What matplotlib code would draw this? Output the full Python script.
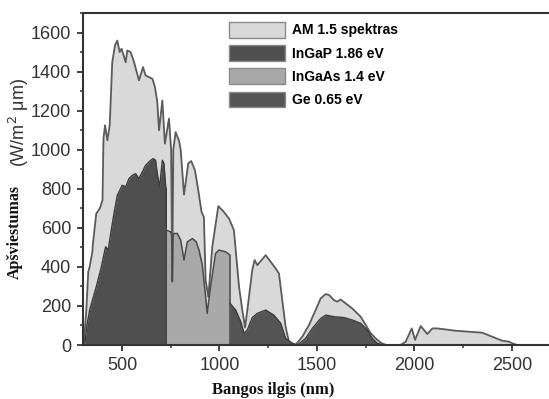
import matplotlib.pyplot as plt
from matplotlib.patches import Patch
from matplotlib.ticker import MultipleLocator

# AM 1.5 spectrum (nm, W/m2 um)
am_x = [300, 305, 317, 327, 334, 348, 351, 368, 386, 400, 405, 413, 425, 437, 450,
        464, 476, 488, 498, 519, 527, 544, 562, 587, 608, 621, 656, 669, 681, 690,
        707, 720, 741, 752, 758, 763, 775, 792, 801, 818, 840, 855, 874, 890, 908,
        920, 929, 943, 963, 994, 1023, 1049, 1074, 1100, 1117, 1131, 1143, 1168,
        1180, 1194, 1237, 1288, 1305, 1339, 1356, 1390, 1425, 1459, 1493, 1519,
        1545, 1562, 1587, 1604, 1621, 1681, 1724, 1750, 1775, 1801, 1830, 1855,
        1929, 1955, 1986, 2003, 2032, 2066, 2092, 2117, 2211, 2348, 2390, 2450,
        2485, 2510, 2530]
am_y = [0, 15, 179, 375, 400, 477, 520, 673, 699, 741, 1057, 1125, 1048, 1125, 1448,
        1534, 1559, 1500, 1517, 1448, 1508, 1500, 1448, 1355, 1423, 1380, 1363, 1321, 1244, 1099,
        1252, 1031, 1159, 1000, 330, 1000, 1090, 1048, 1000, 770, 930, 942, 895, 800, 681,
        656, 332, 247, 502, 711, 681, 647, 588, 300, 179, 90, 180, 383,
        435, 409, 460, 392, 366, 94, 17, 0, 43, 102, 179, 239,
        261, 256, 230, 222, 233, 187, 145, 102, 61, 34, 10, 0,
        0, 17, 85, 26, 97, 56, 85, 85, 73, 63, 46, 22,
        17, 5, 0]

# InGaP 1.86 eV
ingap_x = [309, 320, 334, 368, 394, 416, 429, 442, 460, 476, 493, 501, 519, 536, 553,
           570, 587, 604, 621, 647, 660, 672, 681, 693, 707, 715, 724, 727]
ingap_y = [0, 100, 179, 298, 400, 503, 486, 570, 680, 767, 801, 818, 810, 852, 869,
           877, 852, 886, 920, 946, 954, 946, 877, 810, 946, 930, 810, 800]

# InGaAs 1.4 eV
ingaas_x = [727, 750, 755, 758, 762, 767, 784, 801, 818, 835, 861, 881, 895, 912,
            929, 937, 954, 980, 997, 1032, 1054]
ingaas_y = [588, 579, 560, 324, 560, 571, 571, 537, 435, 528, 545, 528, 486, 409,
            247, 162, 298, 469, 486, 477, 460]

# Ge 0.65 eV
ge_x = [1054, 1083, 1109, 1126, 1143, 1168, 1194, 1237, 1279, 1314, 1339, 1373, 1400,
        1442, 1476, 1519, 1545, 1587, 1640, 1681, 1724, 1758, 1784, 1809, 1840]
ge_y = [213, 179, 119, 60, 77, 140, 162, 179, 153, 111, 34, 9, 0,
        34, 85, 136, 153, 145, 140, 128, 111, 77, 34, 9, 0]

labels = ["AM 1.5 spektras", "InGaP 1.86 eV", "InGaAs 1.4 eV", "Ge 0.65 eV"]
colors = ["#d9d9d9", "#4f4f4f", "#a9a9a9", "#545454"]

fig = plt.figure(figsize=(5.49, 3.99), dpi=100)
ax = fig.add_axes([83 / 549, 1 - 345 / 399, 1 - 83 / 549, (345 - 13) / 399])

ax.fill_between(am_x, am_y, 0, color=colors[0], lw=0)
ax.plot(am_x, am_y, color="#5a5a5a", lw=1.3)

ax.fill_between(ingap_x, ingap_y, 0, color=colors[1], lw=0)
ax.plot(ingap_x + [727], ingap_y + [0], color="#3c3c3c", lw=1.0)

ax.fill_between(ingaas_x, ingaas_y, 0, color=colors[2], lw=0)
ax.plot([727] + ingaas_x + [1054], [0] + ingaas_y + [0], color="#4a4a4a", lw=1.1)

ax.fill_between(ge_x, ge_y, 0, color=colors[3], lw=0)
ax.plot(ge_x, ge_y, color="#3c3c3c", lw=1.0)

ax.set_xlim(300, 2690)
ax.set_ylim(0, 1700)
ax.xaxis.set_major_locator(MultipleLocator(500))
ax.xaxis.set_minor_locator(MultipleLocator(250))
ax.yaxis.set_major_locator(MultipleLocator(200))
ax.yaxis.set_minor_locator(MultipleLocator(100))
ax.tick_params(which="major", length=4.5, width=1.3, color="#333333",
               labelsize=13, labelcolor="#333333", pad=4)
ax.tick_params(which="minor", length=2.5, width=1.1, color="#333333")
for lab in ax.get_xticklabels() + ax.get_yticklabels():
    lab.set_family("Liberation Sans")

ax.spines["right"].set_visible(False)
for s in ["left", "bottom", "top"]:
    ax.spines[s].set_linewidth(1.5)
    ax.spines[s].set_color("#333333")

handles = [Patch(facecolor=c, edgecolor="#8a8a8a", lw=1.0) for c in colors]
ax.legend(handles, labels, loc="upper left", bbox_to_anchor=(229 / 549, 1 - 22 / 399),
          bbox_transform=fig.transFigure, frameon=False, borderpad=0, borderaxespad=0,
          handlelength=4.0, handleheight=1.35, labelspacing=0.55, handletextpad=0.5,
          prop={"family": "Liberation Sans", "weight": "bold", "size": 10})

# y label: serif part + sans unit part
fig.text(15 / 549, 1 - 232 / 399, "Apšviestumas", rotation=90, ha="center", va="center",
         family="Liberation Serif", weight="bold", size=11.5, color="#111111")
fig.text(19 / 549, 1 - 123 / 399, "(W/m$^2$ μm)", rotation=90, ha="center", va="center",
         family="Liberation Sans", size=13, color="#333333")
fig.text(273 / 549, 1 - 390 / 399, "Bangos ilgis (nm)", ha="center", va="center",
         family="Liberation Serif", weight="bold", size=12, color="#111111")

fig.savefig("out.png", dpi=100)
